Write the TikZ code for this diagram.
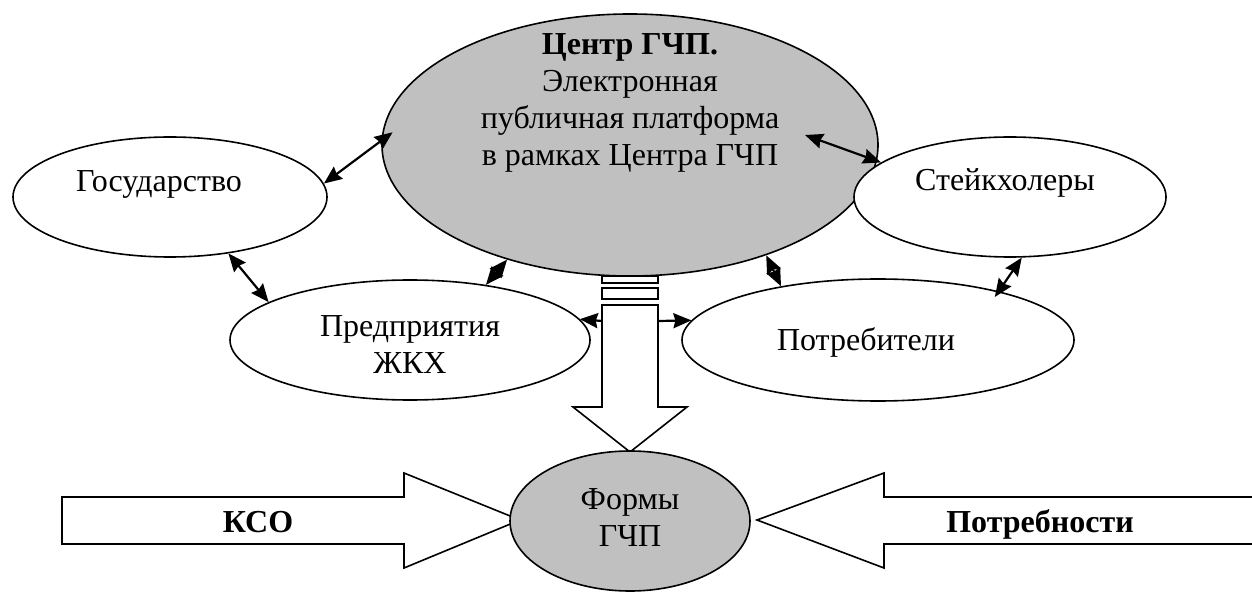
\documentclass[tikz,border=0pt]{standalone}
\usepackage{fontspec}
\setmainfont{Liberation Serif}
\usetikzlibrary{shapes.geometric,arrows.meta}
\definecolor{hubgray}{HTML}{C0C0C0}
\begin{document}
\begin{tikzpicture}[x=1pt,y=-1pt,
  oval/.style={ellipse, draw=black, line width=1.6pt, fill=white, inner sep=0pt},
  hub/.style={oval, fill=hubgray},
  lbl/.style={inner sep=0pt, font=\fontsize{32}{37}\selectfont, align=center},
  link/.style={line width=2.2pt, {Stealth[length=18pt,width=15pt,inset=2pt]}-{Stealth[length=18pt,width=15pt,inset=2pt]}},
  push/.style={line width=2.2pt, -{Stealth[length=18pt,width=15pt,inset=2pt]}},
  bigarrow/.style={draw=black, line width=1.6pt, fill=white, line join=miter}
]
\useasboundingbox (0,0) rectangle (1252,593);
\clip (0,0) rectangle (1252,593);

% wide block arrows pointing at the forms ellipse
\draw[bigarrow] (62,497) -- (404,497) -- (404,473) -- (520,520) -- (404,568)
  -- (404,544) -- (62,544) -- cycle;
\draw[bigarrow] (1270,497) -- (884,497) -- (884,473) -- (757,520) -- (884,568)
  -- (884,544) -- (1270,544);

% broken block arrow from the centre down to the forms
\draw[bigarrow] (602,276) rectangle (658,283);
\draw[bigarrow] (602,288) rectangle (658,299);
\draw[bigarrow] (602,305) -- (658,305) -- (658,407) -- (687,407) -- (630,452)
  -- (573,407) -- (602,407) -- cycle;
\coordinate (shaftL) at (602,321);
\coordinate (shaftR) at (658,321);

% ellipses
\node[hub, minimum width=496pt, minimum height=262pt] (main) at (630,145) {};
\node[oval, minimum width=314pt, minimum height=120pt] (gos) at (170,197) {};
\node[oval, minimum width=312pt, minimum height=120pt] (stk) at (1010,197) {};
\node[oval, minimum width=360pt, minimum height=120pt] (pred) at (410,340) {};
\node[oval, minimum width=392pt, minimum height=122pt] (potr) at (878,340) {};
\node[hub, minimum width=240pt, minimum height=140pt] (form) at (630,521) {};

% labels
\node[lbl, anchor=north] (tMain) at (630,33)
  {\textbf{Центр ГЧП.}\\Электронная\\публичная платформа\\в рамках Центра ГЧП};
\node[lbl, anchor=base] (tGos) at (159,192) {Государство};
\node[lbl, anchor=base] (tStk) at (1005,191) {Стейкхолеры};
\node[lbl, anchor=north] (tPred) at (410,315) {Предприятия\\ЖКХ};
\node[lbl, anchor=base] (tPotr) at (866,350) {Потребители};
\node[lbl, anchor=north] (tForm) at (630,488) {Формы\\ГЧП};
\node[lbl, anchor=base] (tKso) at (258,532) {\textbf{КСО}};
\node[lbl, anchor=base] (tNeeds) at (1040,532) {\textbf{Потребности}};

% two-way links
\coordinate (stkLink) at (805,135);
\draw[link, shorten >=-14pt] (gos.5) -- (main.179);
\draw[link] (gos.-44) -- (pred.165);
\draw[link] (stkLink) -- (stk.165);
\draw[link, shorten >=-7pt] (stk.-79) -- (potr.22);
\draw[link] (main.-39) -- (potr.151);
\draw[link] (main.-137) -- (pred.36);

% side arrows from the central shaft
\draw[push] (shaftL) -- (pred.7);
\draw[push] (shaftR) -- (potr.174);
\end{tikzpicture}
\end{document}
